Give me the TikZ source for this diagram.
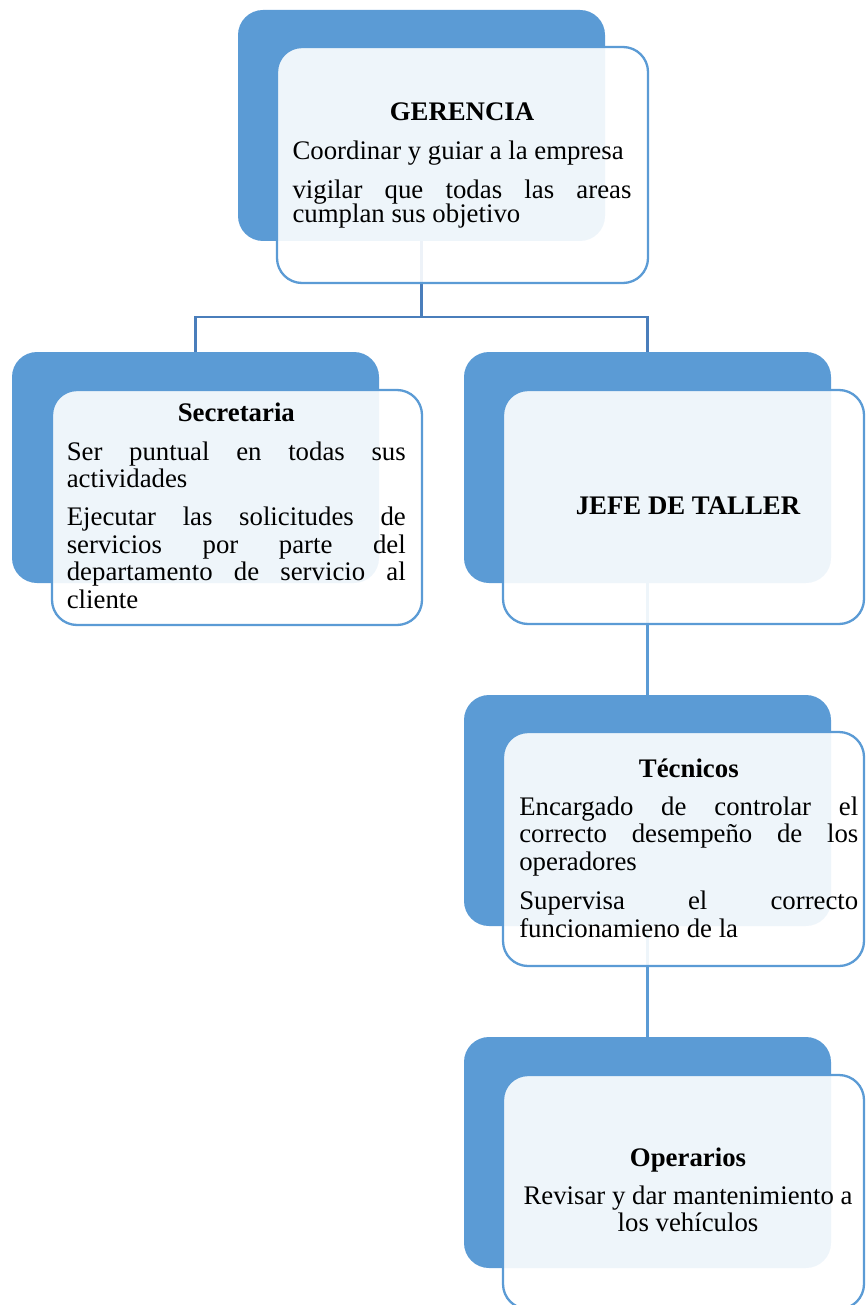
\documentclass[tikz,border=0pt]{standalone}
\usepackage{fontspec}
\setmainfont{Liberation Serif}
\definecolor{accent}{HTML}{5B9BD5}
\definecolor{linkdark}{HTML}{4A7EBB}
\newcommand{\boxtext}[3]{% width, baselineskip, body
  \begin{minipage}[t]{#1}%
    \fontsize{26.8}{#2}\selectfont
    \setlength{\parindent}{0pt}\setlength{\parskip}{0pt}%
    \hbadness=10000 \tolerance=10000 \lineskiplimit=-100pt
    #3%
  \end{minipage}}
\begin{document}
\begin{tikzpicture}[x=1pt,y=-1pt,
  back/.style={fill=accent, rounded corners=25pt, inner sep=0pt, draw=none},
  front/.style={draw=accent, line width=2.3pt, fill=white, fill opacity=0.9, rounded corners=25pt, inner sep=0pt},
  link/.style={line width=2.3pt, draw=linkdark},
  sublink/.style={line width=2.3pt, draw=accent},
  txt/.style={inner sep=0pt, anchor=base, font=\fontsize{26.8}{27}\selectfont}]
\useasboundingbox (0,0) rectangle (865,1305);
\clip (0,0) rectangle (865,1305);

% back panels
\node[back, minimum width=367pt, minimum height=231pt] (gback) at (421.5,125.5) {};
\node[back, minimum width=367pt, minimum height=231pt] (sback) at (195.5,467.5) {};
\node[back, minimum width=367pt, minimum height=231pt] (jback) at (647.5,467.5) {};
\node[back, minimum width=367pt, minimum height=231pt] (tback) at (647.5,810.5) {};
\node[back, minimum width=367pt, minimum height=231pt] (oback) at (647.5,1152.5) {};

% connectors
\coordinate (bus) at (0,317);
\draw[link] (gback.south) -- (gback.south |- bus);
\draw[link, line join=miter] (sback.north) -- (sback.north |- bus) -- (jback.north |- bus) -- (jback.north);
\draw[sublink] (jback.south) -- (tback.north);
\draw[sublink] (tback.south) -- (oback.north);

% front panels
\node[front, minimum width=371pt, minimum height=236pt] (gfront) at (462.5,165) {};
\node[front, minimum width=370pt, minimum height=235pt] (sfront) at (237,507.5) {};
\node[front, minimum width=361pt, minimum height=234pt] (jfront) at (683.5,507) {};
\node[front, minimum width=361pt, minimum height=234pt] (tfront) at (683.5,849) {};
\node[front, minimum width=361pt, minimum height=234pt] (ofront) at (683.5,1192) {};

% texts
\node[txt] (gtext) at (462,120.7) {\boxtext{339pt}{24.4pt}{%
  {\centering\bfseries GERENCIA\par}\vspace{14.2pt}
  Coordinar y guiar a la empresa\par\vspace{14.6pt}
  vigilar que todas las areas\linebreak cumplan sus objetivo\par}};

\node[txt] (stext) at (236.3,421.7) {\boxtext{339pt}{27.5pt}{%
  {\centering\bfseries Secretaria\par}\vspace{10.8pt}
  Ser puntual en todas sus\linebreak actividades\par\vspace{10.8pt}
  Ejecutar las solicitudes de\linebreak servicios por parte del\linebreak departamento de servicio al\linebreak cliente\par}};

\node[txt] (jtext) at (688,514) {\bfseries JEFE DE TALLER};

\node[txt] (ttext) at (688.8,777.3) {\boxtext{339pt}{27.9pt}{%
  {\centering\bfseries Técnicos\par}\vspace{9.8pt}
  Encargado de controlar el\linebreak correcto desempeño de los\linebreak operadores\par\vspace{10.4pt}
  Supervisa el correcto\linebreak funcionamieno de la\par}};

\node[txt] (otext) at (688,1166.7) {\boxtext{339pt}{27.4pt}{%
  {\centering\bfseries Operarios\par}\vspace{10.2pt}
  {\centering Revisar y dar mantenimiento a\\ los vehículos\par}}};
\end{tikzpicture}
\end{document}
